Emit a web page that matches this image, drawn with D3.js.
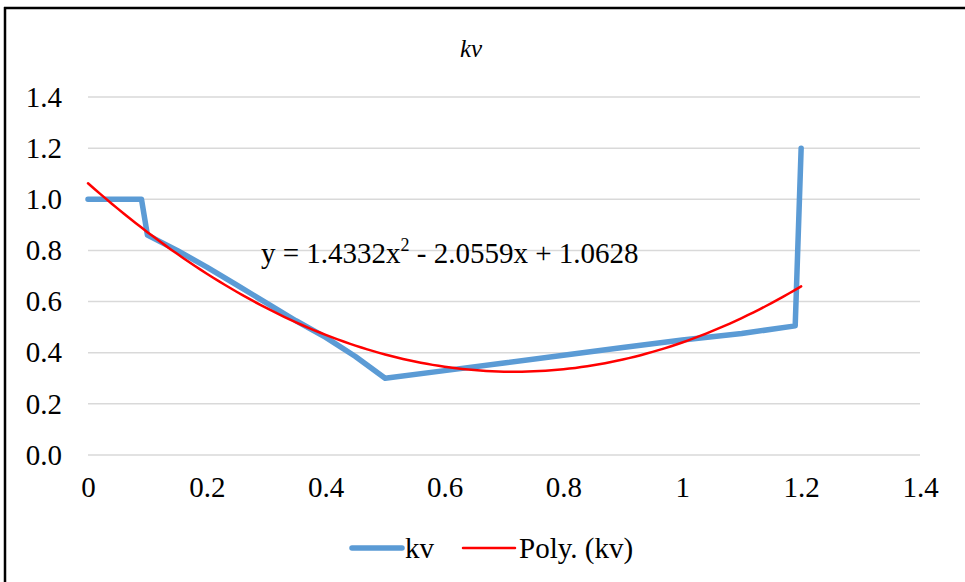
<!DOCTYPE html>
<html>
<head>
<meta charset="utf-8">
<script src="https://cdn.jsdelivr.net/npm/d3@7"></script>
<style>
  body { margin: 0; background: #fff; }
  svg { display: block; }
  svg text { font-family: "Liberation Serif", "Times New Roman", serif; fill: #000; }
</style>
</head>
<body>
<div id="chart"></div>
<script>
// kv series
var kvX = [0, 0.09, 0.1, 0.15, 0.2, 0.25, 0.3, 0.35, 0.4, 0.45, 0.5, 0.6, 0.7, 0.8, 0.9, 1.0, 1.1, 1.19, 1.2];
var kvY = [1.0, 1.0, 0.86, 0.80, 0.735, 0.665, 0.595, 0.525, 0.46, 0.385, 0.30, 0.33, 0.36, 0.39, 0.42, 0.45, 0.475, 0.505, 1.2];

// polynomial trendline coefficients (a2, a1, a0) as printed on the chart
var polyCoef = [1.4332, -2.0559, 1.0628];
var polyRange = [0, 1.2];

var xTicks = [0, 0.2, 0.4, 0.6, 0.8, 1, 1.2, 1.4];
var yTicks = [0, 0.2, 0.4, 0.6, 0.8, 1.0, 1.2, 1.4];

var W = 965, H = 582;
var m = {left: 88, right: 45, top: 97, bottom: 127};
var fontSize = '29px';

var svg = d3.select('#chart').append('svg')
  .attr('width', W).attr('height', H);

// frame (only top and left edges show in the picture)
svg.append('line').attr('x1', 4).attr('x2', W).attr('y1', 8).attr('y2', 8)
  .style('stroke', '#000').style('stroke-width', 2.5);
svg.append('line').attr('x1', 5).attr('x2', 5).attr('y1', 7).attr('y2', H)
  .style('stroke', '#000').style('stroke-width', 2.5);

var x = d3.scaleLinear().domain([0, 1.4]).range([m.left, W - m.right]);
var y = d3.scaleLinear().domain([0, 1.4]).range([H - m.bottom, m.top]);

// gridlines
svg.append('g').selectAll('line').data(yTicks).enter().append('line')
  .attr('x1', x(0)).attr('x2', x(1.4))
  .attr('y1', function (d) { return y(d); })
  .attr('y2', function (d) { return y(d); })
  .style('stroke', '#d9d9d9').style('stroke-width', 1.5);

// y axis labels
var yAxis = d3.axisLeft(y).tickValues(yTicks).tickFormat(d3.format('.1f')).tickSize(0).tickPadding(26);
var gy = svg.append('g').attr('transform', 'translate(' + x(0) + ',0)').call(yAxis)
  .attr('font-family', null).attr('font-size', null);
gy.select('.domain').remove();
gy.selectAll('text').style('font-size', fontSize);

// x axis labels
var xAxis = d3.axisBottom(x).tickValues(xTicks).tickFormat(function (d) { return String(+d.toFixed(1)); })
  .tickSize(0).tickPadding(21);
var gx = svg.append('g').attr('transform', 'translate(0,' + y(0) + ')').call(xAxis)
  .attr('font-family', null).attr('font-size', null);
gx.select('.domain').remove();
gx.selectAll('text').style('font-size', fontSize);

// kv line
var kvData = kvX.map(function (v, i) { return [v, kvY[i]]; });
var line = d3.line().x(function (d) { return x(d[0]); }).y(function (d) { return y(d[1]); });
svg.append('path').datum(kvData).attr('d', line)
  .style('fill', 'none').style('stroke', '#5b9bd5').style('stroke-width', 5.5)
  .style('stroke-linejoin', 'round').style('stroke-linecap', 'round');

// poly trendline
function poly(v) { return polyCoef[0] * v * v + polyCoef[1] * v + polyCoef[2]; }
var polyData = d3.range(0, 121).map(function (i) {
  var v = polyRange[0] + (polyRange[1] - polyRange[0]) * i / 120;
  return [v, poly(v)];
});
svg.append('path').datum(polyData).attr('d', line)
  .style('fill', 'none').style('stroke', '#ff0000').style('stroke-width', 2.5)
  .style('stroke-linecap', 'round');

// title
svg.append('text').attr('x', 471).attr('y', 57).attr('text-anchor', 'middle')
  .style('font-size', '25px').style('font-style', 'italic').text('kv');

// equation label
var eq = svg.append('text').attr('x', 261).attr('y', 263).style('font-size', fontSize);
eq.append('tspan').text('y = 1.4332x');
eq.append('tspan').attr('dy', -12).style('font-size', '18px').text('2');
eq.append('tspan').attr('dy', 12).text('  - 2.0559x + 1.0628');

// legend
var lg = svg.append('g').attr('transform', 'translate(0,548)');
lg.append('line').attr('x1', 352).attr('x2', 402).attr('y1', 0).attr('y2', 0)
  .style('stroke', '#5b9bd5').style('stroke-width', 5.5).style('stroke-linecap', 'round');
lg.append('text').attr('x', 405).attr('y', 10).style('font-size', fontSize).text('kv');
lg.append('line').attr('x1', 463).attr('x2', 515).attr('y1', 0).attr('y2', 0)
  .style('stroke', '#ff0000').style('stroke-width', 2.5).style('stroke-linecap', 'round');
lg.append('text').attr('x', 519).attr('y', 10).style('font-size', fontSize).text('Poly. (kv)');
</script>
</body>
</html>
